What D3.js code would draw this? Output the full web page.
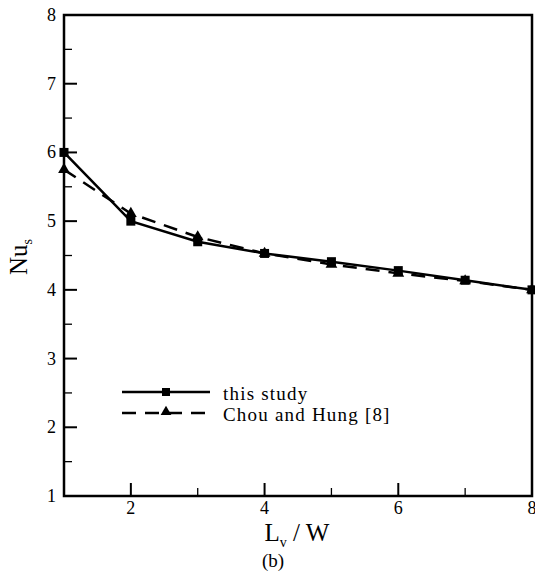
<!DOCTYPE html>
<html>
<head>
<meta charset="utf-8">
<script src="https://cdn.jsdelivr.net/npm/d3@7"></script>
<style>
	body { margin: 0; background: #fff; }
	text { font-family: "Liberation Serif", "DejaVu Serif", serif; fill: #000; }
</style>
</head>
<body>
<div id="chart"></div>
<script>
// data
const ratio = [1, 2, 3, 4, 5, 6, 7, 8];
const thisStudy = [6.0, 5.0, 4.7, 4.53, 4.41, 4.28, 4.14, 4.0];
const chouHung = [5.75, 5.11, 4.77, 4.53, 4.37, 4.24, 4.13, 4.0];
const xTicks = [2, 4, 6, 8];
const yTicks = [1, 2, 3, 4, 5, 6, 7, 8];

const width = 535;
const height = 576;
const margin = { top: 15, right: 3, bottom: 80, left: 64 };
const innerW = width - margin.left - margin.right;
const innerH = height - margin.top - margin.bottom;

const svg = d3.select('#chart').append('svg')
	.attr('width', width)
	.attr('height', height);
const chart = svg.append('g')
	.attr('transform', `translate(${margin.left}, ${margin.top})`);

const x = d3.scaleLinear().domain([1, 8]).range([0, innerW]);
const y = d3.scaleLinear().domain([1, 8]).range([innerH, 0]);

// ticks (inward), major + minor
const xMinor = [3, 5, 7];
const yMinor = d3.range(1.5, 8, 1);

chart.append('g').selectAll('line')
	.data(xTicks.filter(v => v < 8))
	.enter().append('line')
		.attr('x1', d => x(d)).attr('x2', d => x(d))
		.attr('y1', innerH).attr('y2', innerH - 13)
		.style('stroke', '#000').style('stroke-width', 2);
chart.append('g').selectAll('line')
	.data(xMinor)
	.enter().append('line')
		.attr('x1', d => x(d)).attr('x2', d => x(d))
		.attr('y1', innerH).attr('y2', innerH - 8)
		.style('stroke', '#000').style('stroke-width', 1.3);
chart.append('g').selectAll('line')
	.data(yTicks.filter(v => v > 1 && v < 8))
	.enter().append('line')
		.attr('x1', 0).attr('x2', 13)
		.attr('y1', d => y(d)).attr('y2', d => y(d))
		.style('stroke', '#000').style('stroke-width', 2);
chart.append('g').selectAll('line')
	.data(yMinor)
	.enter().append('line')
		.attr('x1', 0).attr('x2', 8)
		.attr('y1', d => y(d)).attr('y2', d => y(d))
		.style('stroke', '#000').style('stroke-width', 1.3);

// tick labels
chart.append('g').selectAll('text')
	.data(yTicks)
	.enter().append('text')
		.attr('x', -8)
		.attr('y', d => y(d) + 6)
		.attr('text-anchor', 'end')
		.style('font-size', '18px')
		.text(d => d);
chart.append('g').selectAll('text')
	.data(xTicks)
	.enter().append('text')
		.attr('x', d => x(d))
		.attr('y', innerH + 18)
		.attr('text-anchor', 'middle')
		.style('font-size', '18px')
		.text(d => d);

// frame
chart.append('rect')
	.attr('width', innerW)
	.attr('height', innerH)
	.style('fill', 'none')
	.style('stroke', '#000')
	.style('stroke-width', 2.5);

// lines
const line = d3.line()
	.x((d, i) => x(ratio[i]))
	.y(d => y(d));

chart.append('path')
	.datum(chouHung)
	.attr('d', line)
	.style('fill', 'none')
	.style('stroke', '#000')
	.style('stroke-width', 2.5)
	.style('stroke-dasharray', '14,9');
chart.append('path')
	.datum(thisStudy)
	.attr('d', line)
	.style('fill', 'none')
	.style('stroke', '#000')
	.style('stroke-width', 2.5);

const tri = d3.symbol().type(d3.symbolTriangle).size(60);
chart.append('g').selectAll('path')
	.data(chouHung)
	.enter().append('path')
		.attr('d', tri)
		.attr('transform', (d, i) => `translate(${x(ratio[i])}, ${y(d)})`)
		.style('fill', '#000');
chart.append('g').selectAll('rect')
	.data(thisStudy)
	.enter().append('rect')
		.attr('x', (d, i) => x(ratio[i]) - 4.5)
		.attr('y', d => y(d) - 4.5)
		.attr('width', 9).attr('height', 9)
		.style('fill', '#000');

// legend
const legend = svg.append('g').attr('transform', 'translate(122, 392)');
legend.append('line')
	.attr('x1', 0).attr('x2', 88).attr('y1', 0).attr('y2', 0)
	.style('stroke', '#000').style('stroke-width', 2.5);
legend.append('rect')
	.attr('x', 40).attr('y', -4).attr('width', 8).attr('height', 8)
	.style('fill', '#000');
legend.append('text')
	.attr('x', 101).attr('y', 8)
	.style('font-size', '19px').style('letter-spacing', '1.2px')
	.text('this study');
legend.append('line')
	.attr('x1', 0).attr('x2', 88).attr('y1', 21).attr('y2', 21)
	.style('stroke', '#000').style('stroke-width', 2.5)
	.style('stroke-dasharray', '14,9');
legend.append('path')
	.attr('d', d3.symbol().type(d3.symbolTriangle).size(50))
	.attr('transform', 'translate(44, 20)')
	.style('fill', '#000');
legend.append('text')
	.attr('x', 101).attr('y', 29)
	.style('font-size', '19px').style('letter-spacing', '1.2px')
	.text('Chou and Hung [8]');

// axis titles
const xt = svg.append('text')
	.attr('x', 297)
	.attr('y', 541)
	.attr('text-anchor', 'middle')
	.style('font-size', '25px');
xt.append('tspan').text('L');
xt.append('tspan').attr('dy', 6).style('font-size', '14px').text('v');
xt.append('tspan').attr('dy', -6).text(' / W');

const yt = svg.append('text')
	.attr('transform', `translate(27, 257) rotate(-90)`)
	.attr('text-anchor', 'middle')
	.style('font-size', '25px');
yt.append('tspan').text('Nu');
yt.append('tspan').attr('dy', 5).style('font-size', '14px').text('s');

svg.append('text')
	.attr('x', 273)
	.attr('y', 567)
	.attr('text-anchor', 'middle')
	.style('font-size', '19px')
	.text('(b)');
</script>
</body>
</html>
